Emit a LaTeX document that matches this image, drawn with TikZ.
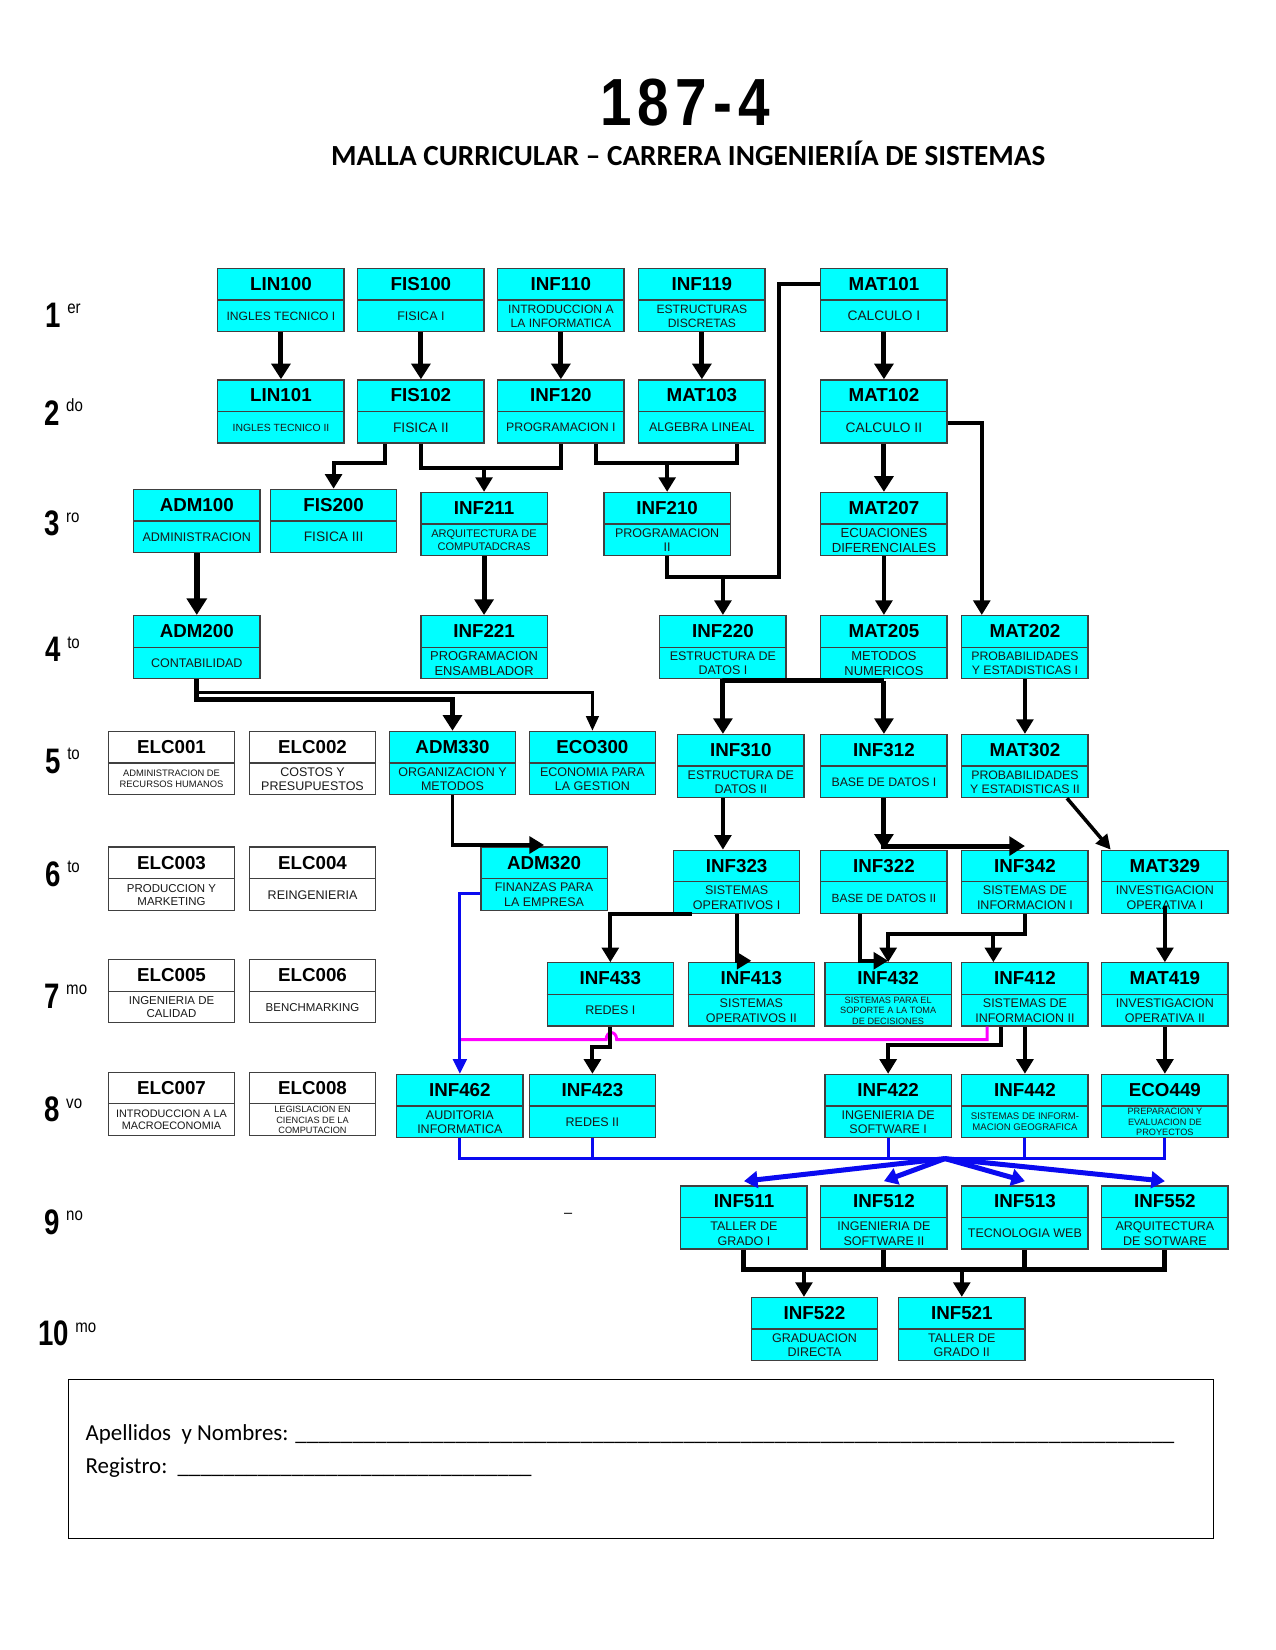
\documentclass[tikz,border=0pt]{standalone}
\usepackage{fontspec}
\setmainfont{Liberation Sans}
\newfontfamily\calib{Carlito}
\usetikzlibrary{calc,arrows.meta}
\definecolor{cy}{HTML}{00FFFF}
\definecolor{mg}{HTML}{FF00FF}
\definecolor{bl}{HTML}{0A0AF0}
\ExplSyntaxOn
\cs_new:Npn \reps #1#2 { \prg_replicate:nn {#1} {#2} }
\ExplSyntaxOff
\newcommand\fs[1]{\fontsize{#1pt}{\dimexpr#1pt*116/100\relax}\selectfont}
\newcommand\crs[7]{%
  \node[box,fill=#4] (#1) at ({#2+60},{#3+30}) {};
  \draw[divl] (#1.west) -- (#1.east);
  \node[codet] (#1c) at ($(#1.north)!0.25!(#1.south)$) {#5};
  \node[subt,font=#7] (#1s) at ($(#1.north)!0.75!(#1.south)$) {#6};
}
\newcommand\semlab[5]{%
  \node[semn] (#1) at (#2,#3) {\scalebox{0.78}[1]{\fontsize{17}{17}\selectfont\bfseries #4}\kern3pt\raisebox{6.5pt}{\scalebox{0.85}[1]{\fontsize{8.5}{8.5}\selectfont #5}}};
}
\tikzset{
 box/.style={draw=black!75,line width=0.6pt,minimum width=60.6pt,minimum height=30.3pt,inner sep=0pt},
 divl/.style={draw=black!75,line width=0.6pt},
 codet/.style={font=\bfseries\fontsize{9}{10}\selectfont,inner sep=0pt},
 subt/.style={align=center,inner sep=0pt,text=black!90},
 lnT/.style={line width=2.4pt},
 lnM/.style={line width=1.9pt},
 arrT/.style={lnT,-{Triangle[width=9pt,length=7.5pt]}},
 arrM/.style={lnM,-{Triangle[width=8pt,length=7pt]}},
 arrS/.style={line width=1.3pt,-{Triangle[width=6pt,length=7pt]}},
 bluS/.style={draw=bl,line width=1.4pt},
 bluA/.style={bluS,-{Triangle[width=6.5pt,length=7pt]}},
 bluT/.style={draw=bl,line width=2.4pt,-{Triangle[width=8pt,length=6.5pt]}},
 pinkl/.style={draw=mg,line width=1.4pt},
 semn/.style={anchor=base west,inner sep=0pt},
}
\begin{document}
\begin{tikzpicture}[x=0.505pt,y=-0.505pt]
\fill[white] (0,0) rectangle (1212,1568);
\useasboundingbox (0,0) rectangle (1212,1568);

% titles
\node[anchor=base,inner sep=0pt,font=\bfseries\fontsize{32}{34}\selectfont] (title) at (651,119) {\scalebox{0.85}[1]{1\kern3.5pt 8\kern3.5pt 7\kern3.5pt -\kern3.5pt 4}};
\node[anchor=base,inner sep=0pt,font=\calib\bfseries\fontsize{14}{16}\selectfont] (subtitle) at (654,157) {MALLA CURRICULAR – CARRERA INGENIERIÍA DE SISTEMAS};

% semester labels
\semlab{s1}{43}{311}{1}{er}
\semlab{s2}{42}{404}{2}{do}
\semlab{s3}{42}{509}{3}{ro}
\semlab{s4}{43}{629}{4}{to}
\semlab{s5}{43}{735}{5}{to}
\semlab{s6}{43}{842}{6}{to}
\semlab{s7}{42}{958}{7}{mo}
\semlab{s8}{42}{1066}{8}{vo}
\semlab{s9}{42}{1173}{9}{no}
\semlab{s10}{36}{1279}{10}{mo}

% courses
\crs{LIN100}{207}{255}{cy}{LIN100}{INGLES TECNICO I}{\fs{5.8}}
\crs{FIS100}{340}{255}{cy}{FIS100}{FISICA I}{\fs{6}}
\crs{INF110}{473}{255}{cy}{INF110}{INTRODUCCION A\\LA INFORMATICA}{\fs{5.8}}
\crs{INF119}{607}{255}{cy}{INF119}{ESTRUCTURAS\\DISCRETAS}{\fs{5.8}}
\crs{MAT101}{780}{255}{cy}{MAT101}{CALCULO I}{\fs{6.6}}
\crs{LIN101}{207}{361}{cy}{LIN101}{INGLES TECNICO II}{\fs{5}}
\crs{FIS102}{340}{361}{cy}{FIS102}{FISICA II}{\fs{6.6}}
\crs{INF120}{473}{361}{cy}{INF120}{PROGRAMACION I}{\fs{5.9}}
\crs{MAT103}{607}{361}{cy}{MAT103}{ALGEBRA LINEAL}{\fs{6}}
\crs{MAT102}{780}{361}{cy}{MAT102}{CALCULO II}{\fs{6.6}}
\crs{ADM100}{127}{465}{cy}{ADM100}{ADMINISTRACION}{\fs{6}}
\crs{FIS200}{257}{465}{cy}{FIS200}{FISICA III}{\fs{6.6}}
\crs{INF211}{400}{468}{cy}{INF211}{ARQUITECTURA DE\\COMPUTADCRAS}{\fs{5.3}}
\crs{INF210}{574}{468}{cy}{INF210}{PROGRAMACION\\II}{\fs{6}}
\crs{MAT207}{780}{468}{cy}{MAT207}{ECUACIONES\\DIFERENCIALES}{\fs{6.3}}
\crs{ADM200}{127}{585}{cy}{ADM200}{CONTABILIDAD}{\fs{6}}
\crs{INF221}{400}{585}{cy}{INF221}{PROGRAMACION\\ENSAMBLADOR}{\fs{6.2}}
\crs{INF220}{627}{585}{cy}{INF220}{ESTRUCTURA DE\\DATOS I}{\fs{6}}
\crs{MAT205}{780}{585}{cy}{MAT205}{METODOS\\NUMERICOS}{\fs{6.2}}
\crs{MAT202}{914}{585}{cy}{MAT202}{PROBABILIDADES\\Y ESTADISTICAS I}{\fs{5.9}}
\crs{ELC001}{103}{695}{white}{ELC001}{ADMINISTRACION DE\\RECURSOS HUMANOS}{\fs{4.5}}
\crs{ELC002}{237}{695}{white}{ELC002}{COSTOS Y\\PRESUPUESTOS}{\fs{6}}
\crs{ADM330}{370}{695}{cy}{ADM330}{ORGANIZACION Y\\METODOS}{\fs{6}}
\crs{ECO300}{503}{695}{cy}{ECO300}{ECONOMIA PARA\\LA GESTION}{\fs{6}}
\crs{INF310}{644}{698}{cy}{INF310}{ESTRUCTURA DE\\DATOS II}{\fs{6}}
\crs{INF312}{780}{698}{cy}{INF312}{BASE DE DATOS I}{\fs{5.9}}
\crs{MAT302}{914}{698}{cy}{MAT302}{PROBABILIDADES\\Y ESTADISTICAS II}{\fs{5.9}}
\crs{ELC003}{103}{805}{white}{ELC003}{PRODUCCION Y\\MARKETING}{\fs{5.5}}
\crs{ELC004}{237}{805}{white}{ELC004}{REINGENIERIA}{\fs{6}}
\crs{ADM320}{457}{805}{cy}{ADM320}{FINANZAS PARA\\LA EMPRESA}{\fs{6}}
\crs{INF323}{640}{808}{cy}{INF323}{SISTEMAS\\OPERATIVOS I}{\fs{6}}
\crs{INF322}{780}{808}{cy}{INF322}{BASE DE DATOS II}{\fs{5.7}}
\crs{INF342}{914}{808}{cy}{INF342}{SISTEMAS DE\\INFORMACION I}{\fs{6}}
\crs{MAT329}{1047}{808}{cy}{MAT329}{INVESTIGACION\\OPERATIVA I}{\fs{6}}
\crs{ELC005}{103}{912}{white}{ELC005}{INGENIERIA DE\\CALIDAD}{\fs{5.5}}
\crs{ELC006}{237}{912}{white}{ELC006}{BENCHMARKING}{\fs{5.5}}
\crs{INF433}{520}{915}{cy}{INF433}{REDES I}{\fs{6}}
\crs{INF413}{654}{915}{cy}{INF413}{SISTEMAS\\OPERATIVOS II}{\fs{6}}
\crs{INF432}{784}{915}{cy}{INF432}{SISTEMAS PARA EL\\SOPORTE A LA TOMA\\DE DECISIONES}{\fs{4.4}}
\crs{INF412}{914}{915}{cy}{INF412}{SISTEMAS DE\\INFORMACION II}{\fs{6}}
\crs{MAT419}{1047}{915}{cy}{MAT419}{INVESTIGACION\\OPERATIVA II}{\fs{6}}
\crs{ELC007}{103}{1019}{white}{ELC007}{INTRODUCCION A LA\\MACROECONOMIA}{\fs{5.2}}
\crs{ELC008}{237}{1019}{white}{ELC008}{LEGISLACION EN\\CIENCIAS DE LA\\COMPUTACION}{\fs{4.4}}
\crs{INF462}{377}{1021}{cy}{INF462}{AUDITORIA\\INFORMATICA}{\fs{6}}
\crs{INF423}{503}{1021}{cy}{INF423}{REDES II}{\fs{6}}
\crs{INF422}{784}{1021}{cy}{INF422}{INGENIERIA DE\\SOFTWARE I}{\fs{6}}
\crs{INF442}{914}{1021}{cy}{INF442}{SISTEMAS DE INFORM-\\MACION GEOGRAFICA}{\fs{4.6}}
\crs{ECO449}{1047}{1021}{cy}{ECO449}{PREPARACION Y\\EVALUACION DE\\PROYECTOS}{\fs{4.4}}
\crs{INF511}{647}{1127}{cy}{INF511}{TALLER DE\\GRADO I}{\fs{6}}
\crs{INF512}{780}{1127}{cy}{INF512}{INGENIERIA DE\\SOFTWARE II}{\fs{6}}
\crs{INF513}{914}{1127}{cy}{INF513}{TECNOLOGIA WEB}{\fs{6}}
\crs{INF552}{1047}{1127}{cy}{INF552}{ARQUITECTURA\\DE SOTWARE}{\fs{6}}
\crs{INF522}{714}{1233}{cy}{INF522}{GRADUACION\\DIRECTA}{\fs{6}}
\crs{INF521}{854}{1233}{cy}{INF521}{TALLER DE\\GRADO II}{\fs{6}}

% stray dash
\node[inner sep=0pt,font=\fs{7}] (dash) at (540,1155) {–};

% ---- connectors: rows 1-2
\draw[arrT] (LIN100.south) -- (LIN101.north);
\draw[arrT] (FIS100.south) -- (FIS102.north);
\draw[arrT] (INF110.south) -- (INF120.north);
\draw[arrT] (INF119.south) -- (MAT103.north);
\draw[arrT] (MAT101.south) -- (MAT102.north);

% rows 2-3
\coordinate (b1) at (366,440);
\draw[arrM] (FIS102.south -| b1) -- (b1) -| (FIS200.north);
\coordinate (b2) at (400,445);
\draw[lnM] (FIS102.south) |- (INF120.south |- b2) -- (INF120.south);
\draw[arrM] (INF211.north |- b2) -- (INF211.north);
\coordinate (b3) at (566,440);
\coordinate (b3r) at (700,440);
\draw[lnM] (INF120.south -| b3) -- (b3) -- (b3r) -- (MAT103.south -| b3r);
\draw[arrM] (INF210.north |- b3) -- (INF210.north);
\draw[arrT] (MAT102.south) -- (MAT207.north);
\coordinate (b4) at (933,402);
\draw[arrM] (MAT102.east |- b4) -- (b4) -- (MAT202.north -| b4);

% rows 3-4
\coordinate (b5) at (740,270);
\coordinate (b6) at (740,548);
\draw[lnM] (MAT101.west |- b5) -- (b5) -- (b6) -- (INF210.south |- b6) -- (INF210.south);
\draw[arrM] (INF220.north |- b6) -- (INF220.north);
\draw[line width=2.9pt,-{Triangle[width=9.5pt,length=8pt]}] (ADM100.south) -- (ADM200.north);
\draw[arrT] (INF211.south) -- (INF221.north);
\draw[arrM] (MAT207.south) -- (MAT205.north);

% rows 4-5
\coordinate (b7) at (186,665);
\coordinate (b8) at (186,658);
\draw[arrS] (ADM200.south |- b8) -| (ECO300.north);
\draw[arrT] (ADM200.south) |- (ADM330.north |- b7) -- (ADM330.north);
\coordinate (b9) at (687,647);
\draw[lnT] (INF220.south) |- (INF312.north |- b9);
\draw[arrT] (INF220.south) -- (INF220.south |- INF310.north);
\draw[arrT] (INF312.north |- b9) -- (INF312.north);
\draw[arrM] (MAT202.south) -- (MAT302.north);

% rows 5-6
\coordinate (b10) at (430,803);
\draw[arrM] (ADM330.south) |- (ADM320.north |- b10);
\draw[arrM] (INF310.south -| INF220.south) -- (INF323.north -| INF220.south);
\coordinate (b11) at (840,804);
\draw[arrT] (INF312.south) -- (INF322.north);
\draw[arrT] (INF312.south) |- (INF342.north |- b11);
\draw[line width=1.7pt,-{Triangle[width=7pt,length=7pt]}] ($(MAT302.south west)!0.83!(MAT302.south east)$) -- ($(MAT329.north west)!0.075!(MAT329.north east)$);

% rows 6-7
\draw[arrM] ($(INF323.south west)!0.15!(INF323.south east)$) -| (INF433.north);
\coordinate (b13) at (700,913);
\draw[arrM] (INF323.south) |- (INF413.north |- b13);
\coordinate (b14) at (817,913);
\draw[arrM] (INF322.south -| b14) -- (b14) -- (INF432.north |- b14);
\coordinate (b15) at (944,888);
\draw[arrM] (INF342.south) |- (INF432.north |- b15) -- (INF432.north);
\draw[arrM] (b15) -- (INF412.north -| b15);
\draw[arrM] ([yshift=4pt]MAT329.south) -- (MAT419.north);

% pink and blue
\coordinate (p1) at (938,988);
\coordinate (h1) at (586,988);
\coordinate (h2) at (576,988);
\draw[pinkl] (INF412.south -| p1) -- (p1) -- (h1) .. controls ($(h1)+(0,-9)$) and ($(h2)+(0,-9)$) .. (h2) -- (INF462.north |- p1);
\coordinate (q1) at (437,849);
\draw[bluA] (ADM320.west |- q1) -- (INF462.north |- q1) -- (INF462.north);

% rows 7-8
\coordinate (b16) at (581,995);
\draw[arrM] (INF433.south) |- (INF423.north |- b16) -- (INF423.north);
\coordinate (b17) at (951,993);
\draw[arrM] (INF412.south -| b17) -- (b17) -| (INF422.north);
\draw[arrM] (INF412.south) -- (INF442.north);
\draw[arrM] (MAT419.south) -- (ECO449.north);

% rows 8-9 (blue)
\coordinate (q2) at (898,1101);
\draw[bluS] (INF462.south) |- (ECO449.south |- q2) -- (ECO449.south);
\draw[bluS] (INF423.south) -- (INF423.south |- q2);
\draw[bluS] (INF422.south) -- (INF422.south |- q2);
\draw[bluS] (INF442.south) -- (INF442.south |- q2);
\draw[bluT] (q2) -- ([yshift=2pt]INF511.north);
\draw[bluT] (q2) -- ([yshift=2pt]INF512.north);
\draw[bluT] (q2) -- ([yshift=2pt]INF513.north);
\draw[bluT] (q2) -- ([yshift=2pt]INF552.north);

% rows 9-10
\coordinate (r1) at (764,1206);
\draw[lnT] (INF511.south) |- (INF552.south |- r1) -- (INF552.south);
\draw[lnT] (INF512.south) -- (INF512.south |- r1);
\draw[lnT] (INF513.south) -- (INF513.south |- r1);
\draw[arrM] (r1) -- (INF522.north -| r1);
\draw[arrM] (INF521.north |- r1) -- (INF521.north);

% form box
\node[draw=black,line width=0.7pt,minimum width=549.4pt,minimum height=76.3pt,inner sep=0pt] (form) at (609,1386.5) {};
\node[anchor=base west,inner sep=0pt,font=\calib\fontsize{11}{13}\selectfont] (nombres) at (81,1369) {Apellidos\ \ y Nombres: \reps{77}{\_}};
\node[anchor=base west,inner sep=0pt,font=\calib\fontsize{11}{13}\selectfont] (registro) at (81,1400) {Registro:\ \ \reps{31}{\_}};
\end{tikzpicture}
\end{document}
